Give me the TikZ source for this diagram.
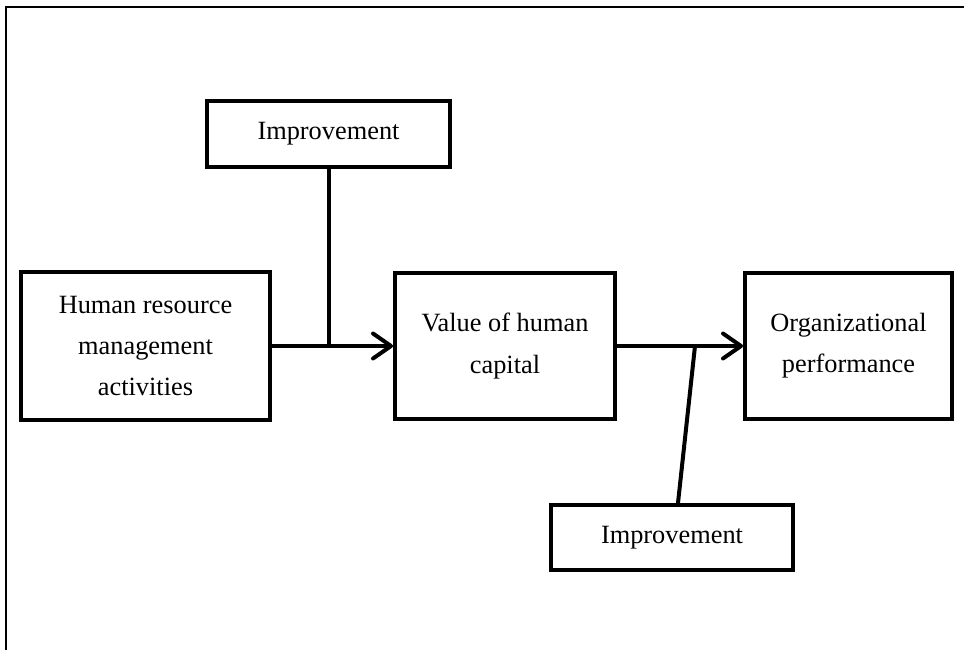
\documentclass[tikz,border=0pt]{standalone}
\usepackage{fontspec}
\setmainfont{Liberation Serif}
\usetikzlibrary{arrows.meta}

\begin{document}
\begin{tikzpicture}[x=0.02cm, y=-0.02cm, box/.style={rectangle, draw=black, line width=0.08cm, align=center, inner sep=2pt, font=\fontsize{15}{23.5}\selectfont}, link/.style={draw=black, line width=0.08cm}, frame/.style={draw=black, line width=0.04cm}]
				\useasboundingbox (0,0) rectangle (964,650);
				\draw[frame] (6,650) -- (6,7) -- (964,7);
				
				\node[box, minimum width=4.86cm, minimum height=1.32cm] (impA) at (328.5,134){Improvement};
				\node[box, minimum width=4.98cm, minimum height=2.96cm] (hrm) at (145.5,346){Human resource\\management\\activities};
				\node[box, minimum width=4.40cm, minimum height=2.94cm] (val) at (505,346){Value of human\\capital};
				\node[box, minimum width=4.14cm, minimum height=2.94cm] (org) at (848.5,346){Organizational\\performance};
				\node[box, minimum width=4.84cm, minimum height=1.30cm] (impB) at (672,537.5){Improvement};
				
				\coordinate (joinB) at (695,346);
				
				\path[link, -{Straight Barb[length=0.36cm, width=0.5cm, round]}] (hrm) edge (val);
				\path[link, -{Straight Barb[length=0.36cm, width=0.5cm, round]}] (val) edge (org);
				\path[link] (impA.south) edge (impA.south |- hrm.east);
				\path[link] ([xshift=0.12cm]impB.north) edge (joinB);
				\end{tikzpicture}
\end{document}
